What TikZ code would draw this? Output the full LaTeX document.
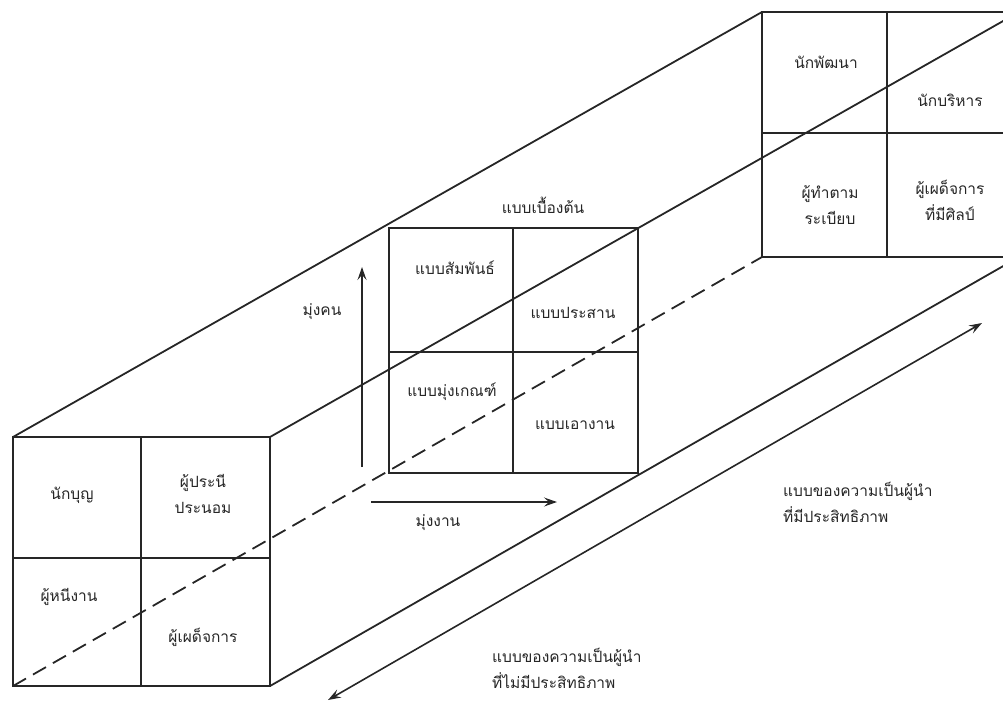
\documentclass[tikz,border=0pt]{standalone}
\usepackage{fontspec}
\newfontfamily\thaifont[Script=Thai]{Loma}
\usetikzlibrary{arrows.meta}
\begin{document}
\begin{tikzpicture}[x=1pt,y=-1pt,
  edge/.style={line width=1.8pt, line join=miter, draw=black!85},
  hidden/.style={edge, dash pattern=on 15pt off 8pt},
  lbl/.style={font=\thaifont\fontsize{15.5}{26}\selectfont, align=center, inner sep=0pt, text=black!85},
  lbll/.style={font=\thaifont\fontsize{15.5}{26}\selectfont, align=left, inner sep=0pt, anchor=west, text=black!85},
  arr/.style={line width=1.6pt, draw=black!85, -{Stealth[length=13pt,width=9pt,inset=5pt]}},
  darr/.style={line width=1.6pt, draw=black!85, {Stealth[length=13pt,width=9pt,inset=5pt]}-{Stealth[length=13pt,width=9pt,inset=5pt]}}]
\path[use as bounding box] (0,0) rectangle (1003,702);
\clip (0,0) rectangle (1003,702);
% front box corners
\coordinate (FTL) at (13,437);
\coordinate (FTR) at (270,437);
\coordinate (FBR) at (270,686);
\coordinate (FBL) at (13,686);
% back box corners
\coordinate (BTL) at (762,12);
\coordinate (BTR) at (1019,12);
\coordinate (BBR) at (1019,257);
\coordinate (BBL) at (762,257);
% middle box corners
\coordinate (MTL) at (389,228);
\coordinate (MTR) at (638,228);
\coordinate (MBR) at (638,473);
\coordinate (MBL) at (389,473);
% long edges
\draw[edge] (FTL) -- (BTL);
\draw[edge] (FTR) -- (BTR);
\draw[edge] (FBR) -- (BBR);
\draw[hidden] (FBL) -- (BBL);
% front box
\draw[edge] (FTL) -- (FTR) -- (FBR) -- (FBL) -- cycle;
\draw[edge] (13,558) -- (270,558);
\draw[edge] (141,437) -- (141,686);
% middle box
\draw[edge] (MTL) -- (MTR) -- (MBR) -- (MBL) -- cycle;
\draw[edge] (389,352) -- (638,352);
\draw[edge] (513,228) -- (513,473);
% back box
\draw[edge] (BTL) -- (BTR) -- (BBR) -- (BBL) -- cycle;
\draw[edge] (762,133) -- (1019,133);
\draw[edge] (887,12) -- (887,257);
% front labels
\node[lbl] (f1) at (72,495) {นักบุญ};
\node[lbl] (f2) at (203,494) {ผู้ประนี\\ประนอม};
\node[lbl] (f3) at (69,597) {ผู้หนีงาน};
\node[lbl] (f4) at (203,637) {ผู้เผด็จการ};
% middle labels
\node[lbl] (mt) at (543,205) {แบบเบื้องต้น};
\node[lbl] (m1) at (455,268) {แบบสัมพันธ์};
\node[lbl] (m2) at (573,313) {แบบประสาน};
\node[lbl] (m3) at (452,392) {แบบมุ่งเกณฑ์};
\node[lbl] (m4) at (575,425) {แบบเอางาน};
% back labels
\node[lbl] (b1) at (826,62) {นักพัฒนา};
\node[lbl] (b2) at (950,100) {นักบริหาร};
\node[lbl] (b3) at (830,205) {ผู้ทำตาม\\ระเบียบ};
\node[lbl] (b4) at (950,200) {ผู้เผด็จการ\\ที่มีศิลป์};
% axes
\coordinate (vA) at (362,467);
\coordinate (vB) at (362,267);
\draw[arr] (vA) -- (vB);
\node[lbl] (ppl) at (322,312) {มุ่งคน};
\coordinate (hA) at (371,502);
\coordinate (hB) at (557,502);
\draw[arr] (hA) -- (hB);
\node[lbl] (wrk) at (438,523) {มุ่งงาน};
% effectiveness axis
\coordinate (eA) at (328,700);
\coordinate (eB) at (982,323);
\draw[darr] (eA) -- (eB);
\node[lbll] (eff) at (783,502) {แบบของความเป็นผู้นำ\\ที่มีประสิทธิภาพ};
\node[lbll] (ineff) at (492,668) {แบบของความเป็นผู้นำ\\ที่ไม่มีประสิทธิภาพ};
\end{tikzpicture}
\end{document}
